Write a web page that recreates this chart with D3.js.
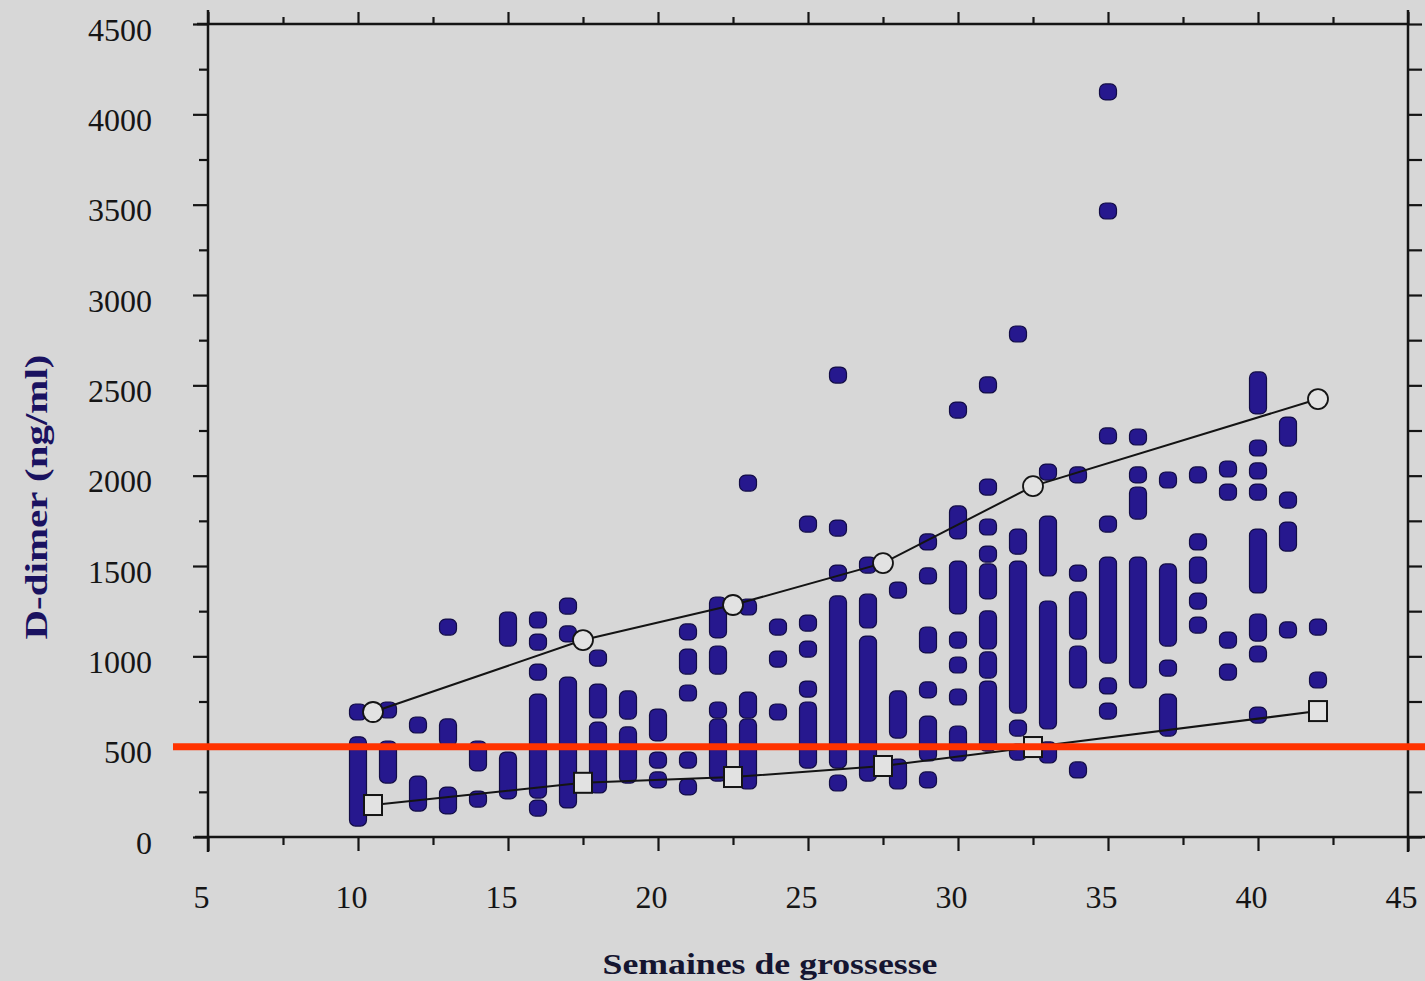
<!DOCTYPE html>
<html>
<head>
<meta charset="utf-8">
<script src="https://d3js.org/d3.v7.min.js"></script>
<style>
  body { margin: 0; background: #d7d7d7; }
  svg { display: block; }
  .tick text { font-family: "Liberation Serif", "DejaVu Serif", serif; fill: #151515; }
</style>
</head>
<body>
<div id="grafico"></div>
<script>
// semanas (eje x) y grupos de puntos de cada semana: [min, max] (min == max => un solo punto)
var weeks = [10, 11, 12, 13, 14, 15, 16, 17, 18, 19, 20, 21, 22, 23, 24, 25, 26,
             27, 28, 29, 30, 31, 32, 33, 34, 35, 36, 37, 38, 39, 40, 41, 42];
var runs = [
  [[105, 510], [692, 692]],
  [[343, 487], [703, 703]],
  [[188, 293], [620, 620]],
  [[172, 232], [548, 609], [1162, 1162]],
  [[210, 210], [410, 487]],
  [[255, 426], [1101, 1201]],
  [[160, 160], [260, 747], [913, 913], [1079, 1079], [1201, 1201]],
  [[205, 841], [1124, 1124], [1278, 1278]],
  [[288, 592], [703, 802], [990, 990]],
  [[343, 565], [697, 764]],
  [[316, 316], [426, 426], [576, 664]],
  [[277, 277], [426, 426], [797, 797], [946, 996], [1135, 1135]],
  [[354, 609], [703, 703], [946, 1013], [1146, 1284]],
  [[310, 609], [703, 758], [1273, 1273], [1959, 1959]],
  [[692, 692], [985, 985], [1162, 1162]],
  [[426, 703], [819, 819], [1040, 1040], [1184, 1184], [1732, 1732]],
  [[299, 299], [426, 1290], [1461, 1461], [1710, 1710], [2557, 2557]],
  [[354, 1068], [1201, 1300], [1505, 1505]],
  [[310, 387], [592, 764], [1367, 1367]],
  [[316, 316], [465, 625], [814, 814], [1063, 1118], [1445, 1445], [1633, 1633]],
  [[465, 570], [775, 775], [952, 952], [1090, 1090], [1279, 1483], [1694, 1788], [2363, 2363]],
  [[520, 819], [924, 980], [1085, 1207], [1362, 1467], [1566, 1566], [1716, 1716], [1937, 1937], [2502, 2502]],
  [[470, 470], [603, 603], [730, 1483], [1610, 1660], [2784, 2784]],
  [[454, 482], [642, 1262], [1489, 1732], [2020, 2020]],
  [[371, 371], [869, 1013], [1140, 1312], [1461, 1461], [2004, 2004]],
  [[697, 697], [836, 836], [1007, 1505], [1732, 1732], [2220, 2220], [3465, 3465], [4124, 4124]],
  [[869, 1505], [1804, 1893], [2004, 2004], [2214, 2214]],
  [[603, 747], [935, 935], [1101, 1467], [1976, 1976]],
  [[1173, 1173], [1306, 1306], [1450, 1505], [1633, 1633], [2004, 2004]],
  [[913, 913], [1090, 1090], [1909, 1909], [2037, 2037]],
  [[675, 675], [1013, 1013], [1129, 1190], [1395, 1660], [1909, 1909], [2026, 2026], [2153, 2153], [2386, 2530]],
  [[1146, 1146], [1627, 1699], [1865, 1865], [2208, 2280]],
  [[869, 869], [1162, 1162]]
];

// percentiles (circulos arriba, cuadrados abajo)
var upperWeeks = [10.5, 17.5, 22.5, 27.5, 32.5, 42];
var upperValues = [692, 1090, 1284, 1516, 1942, 2424];
var lowerWeeks = [10.5, 17.5, 22.5, 27.5, 32.5, 42];
var lowerValues = [177, 300, 332, 393, 498, 697];

var xTicks = [5, 10, 15, 20, 25, 30, 35, 40, 45];
var xMinor = [7.5, 12.5, 17.5, 22.5, 27.5, 32.5, 37.5, 42.5];
var yTicks = [0, 500, 1000, 1500, 2000, 2500, 3000, 3500, 4000, 4500];
var yMinor = [250, 750, 1250, 1750, 2250, 2750, 3250, 3750, 4250];
var threshold = 500;

var width = 1425, height = 981;
var svg = d3.select("#grafico").append("svg")
  .attr("width", width)
  .attr("height", height);

var x = d3.scaleLinear().domain([5, 45]).range([208, 1408]);
var y = d3.scaleLinear().domain([0, 4500]).range([837, 24]);

var ink = "#141414";

// Ejes
function axisStyle(g) {
  g.select(".domain").remove();
  g.selectAll(".tick line").attr("stroke", ink).attr("stroke-width", 2.2);
}

svg.append("g")
  .attr("transform", "translate(0," + y(0) + ")")
  .call(d3.axisBottom(x).tickValues(xTicks).tickSize(14).tickPadding(34).tickFormat(d3.format("d")))
  .call(axisStyle)
  .call(function(g) {
    g.selectAll("text").attr("font-size", 32).attr("dx", -7);
  });

svg.append("g")
  .attr("transform", "translate(0," + y(0) + ")")
  .call(d3.axisBottom(x).tickValues(xMinor).tickSize(8).tickFormat(""))
  .call(axisStyle);

svg.append("g")
  .attr("transform", "translate(0," + y(4500) + ")")
  .call(d3.axisTop(x).tickValues(xTicks).tickSize(12).tickFormat(""))
  .call(axisStyle);

svg.append("g")
  .attr("transform", "translate(0," + y(4500) + ")")
  .call(d3.axisTop(x).tickValues(xMinor).tickSize(7).tickFormat(""))
  .call(axisStyle);

svg.append("g")
  .attr("transform", "translate(" + x(5) + ",0)")
  .call(d3.axisLeft(y).tickValues(yTicks).tickSize(15).tickPadding(41).tickFormat(d3.format("d")))
  .call(axisStyle)
  .call(function(g) {
    g.selectAll("text").attr("font-size", 32).attr("dy", "0.5em");
  });

svg.append("g")
  .attr("transform", "translate(" + x(5) + ",0)")
  .call(d3.axisLeft(y).tickValues(yMinor).tickSize(9).tickFormat(""))
  .call(axisStyle);

svg.append("g")
  .attr("transform", "translate(" + x(45) + ",0)")
  .call(d3.axisRight(y).tickValues(yTicks.concat(yMinor)).tickSize(14).tickFormat(""))
  .call(axisStyle);

// lineas del marco
svg.append("line").attr("x1", 195).attr("x2", width).attr("y1", y(0)).attr("y2", y(0))
  .attr("stroke", ink).attr("stroke-width", 2.5);
svg.append("line").attr("x1", 197).attr("x2", x(45) + 1).attr("y1", y(4500)).attr("y2", y(4500))
  .attr("stroke", ink).attr("stroke-width", 2.5);
svg.append("line").attr("x1", x(5)).attr("x2", x(5)).attr("y1", y(4500) - 14).attr("y2", y(0) + 15)
  .attr("stroke", ink).attr("stroke-width", 2.5);
svg.append("line").attr("x1", x(45)).attr("x2", x(45)).attr("y1", y(4500) - 14).attr("y2", y(0) + 15)
  .attr("stroke", ink).attr("stroke-width", 2.5);

// Puntos (grupos de puntos solapados = barras)
var marks = [];
weeks.forEach(function(w, i) {
  runs[i].forEach(function(r) {
    marks.push({ week: w, lo: r[0], hi: r[1] });
  });
});

svg.append("g").selectAll("rect")
  .data(marks)
  .enter()
  .append("rect")
  .attr("x", function(d) { return x(d.week) - 8.5; })
  .attr("y", function(d) { return y(d.hi) - 8; })
  .attr("width", 17)
  .attr("height", function(d) { return y(d.lo) - y(d.hi) + 16; })
  .attr("rx", 6)
  .attr("fill", "#26188e")
  .attr("stroke", "#120c45")
  .attr("stroke-width", 1.2);

// Lineas de percentiles
var line = d3.line()
  .x(function(d) { return x(d[0]); })
  .y(function(d) { return y(d[1]); });

var upper = d3.zip(upperWeeks, upperValues);
var lower = d3.zip(lowerWeeks, lowerValues);

svg.append("path").datum(upper).attr("d", line)
  .attr("fill", "none").attr("stroke", ink).attr("stroke-width", 2);
svg.append("path").datum(lower).attr("d", line)
  .attr("fill", "none").attr("stroke", ink).attr("stroke-width", 2);

svg.append("g").selectAll("circle")
  .data(upper)
  .enter()
  .append("circle")
  .attr("cx", function(d) { return x(d[0]); })
  .attr("cy", function(d) { return y(d[1]); })
  .attr("r", 10)
  .attr("fill", "#e2e2e2")
  .attr("stroke", ink)
  .attr("stroke-width", 1.8);

svg.append("g").selectAll("rect")
  .data(lower)
  .enter()
  .append("rect")
  .attr("x", function(d) { return x(d[0]) - 9; })
  .attr("y", function(d) { return y(d[1]) - 10; })
  .attr("width", 18)
  .attr("height", 20)
  .attr("fill", "#e2e2e2")
  .attr("stroke", ink)
  .attr("stroke-width", 2);

// linea roja de umbral
svg.append("line")
  .attr("x1", 173).attr("x2", width)
  .attr("y1", y(threshold)).attr("y2", y(threshold))
  .attr("stroke", "#ff3300")
  .attr("stroke-width", 7);

// Titulos de ejes
svg.append("text")
  .attr("transform", "translate(47," + 497 + ") rotate(-90)")
  .attr("text-anchor", "middle")
  .attr("font-family", "Liberation Serif, serif")
  .attr("font-weight", "bold")
  .attr("font-size", 32)
  .attr("fill", "#1a1260")
  .attr("textLength", 285)
  .attr("lengthAdjust", "spacingAndGlyphs")
  .text("D-dimer (ng/ml)");

svg.append("text")
  .attr("x", 770)
  .attr("y", 974)
  .attr("text-anchor", "middle")
  .attr("font-family", "Liberation Serif, serif")
  .attr("font-weight", "bold")
  .attr("font-size", 30)
  .attr("fill", "#151530")
  .attr("textLength", 335)
  .attr("lengthAdjust", "spacingAndGlyphs")
  .text("Semaines de grossesse");
</script>
</body>
</html>
